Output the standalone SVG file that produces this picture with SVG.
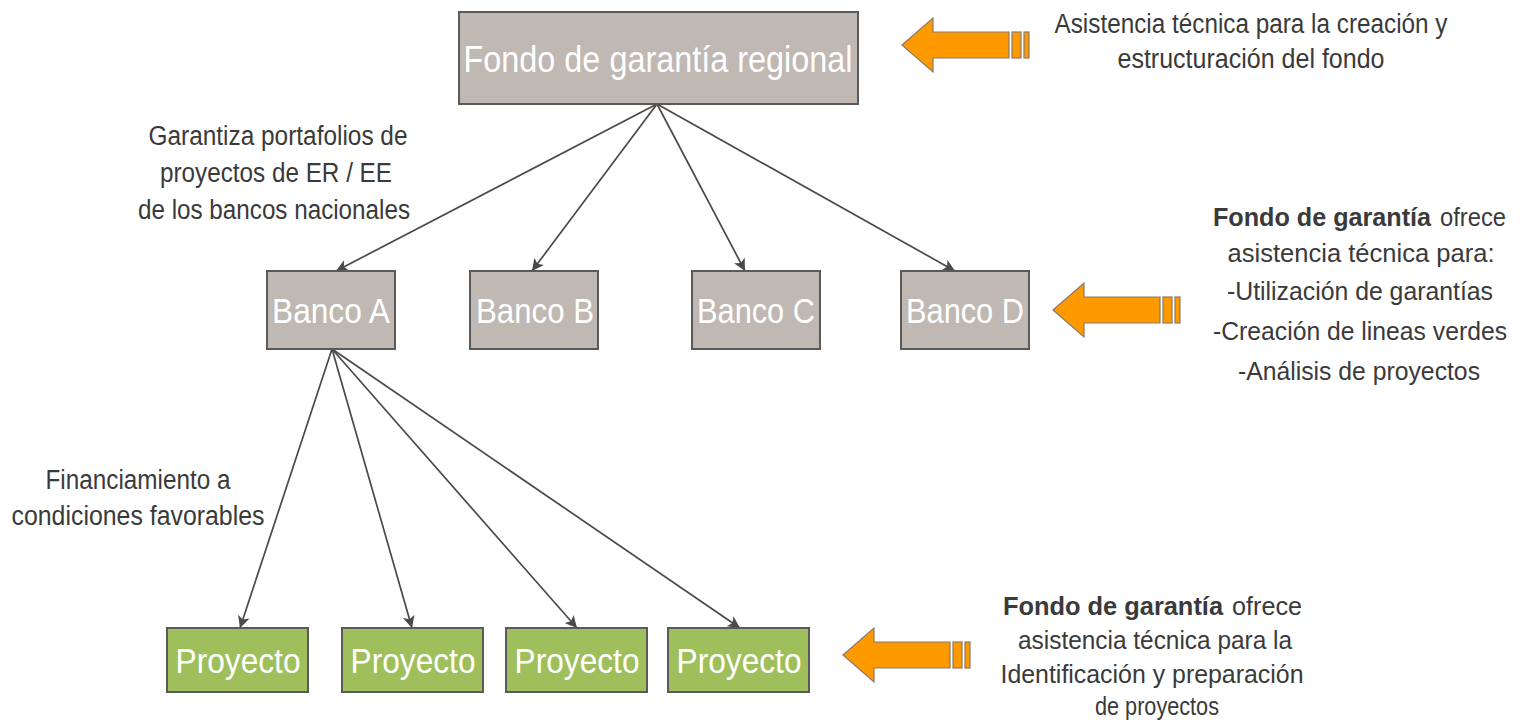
<svg xmlns="http://www.w3.org/2000/svg" width="1520" height="720" viewBox="0 0 1520 720">
<style>
.box{stroke:#5a5a5a;stroke-width:2}
.gray{fill:#BFB8B3}
.green{fill:#9FBF5C}
.bt{font-family:"Liberation Sans",Arial,sans-serif;fill:#ffffff;text-anchor:middle}
.t{font-family:"Liberation Sans",Arial,sans-serif;fill:#3a3a3a;font-size:27px;text-anchor:middle}
.r{font-size:26px}
.s{text-anchor:start}
.b{font-weight:bold}
.conn{stroke:#4a4a4a;stroke-width:1.7;fill:none;marker-end:url(#ah)}
.arr{fill:#FF9900;stroke:#8a7a6a;stroke-width:1.2}
</style>
<defs>
<marker id="ah" markerUnits="userSpaceOnUse" markerWidth="14" markerHeight="14" refX="12" refY="6" orient="auto">
<path d="M0,0 L12,6 L0,12 L3,6 Z" fill="#4a4a4a"/>
</marker>
<g id="bigarrow">
<path class="arr" d="M0,0 L31,-27 L31,-13 L107,-13 L107,13 L31,13 L31,27 Z"/>
<rect class="arr" x="110" y="-13" width="9" height="26"/>
<rect class="arr" x="122" y="-13" width="5" height="26"/>
</g>
</defs>
<rect width="1520" height="720" fill="#ffffff"/>

<g id="connectors">
<path class="conn" d="M657,104 L336,271"/>
<path class="conn" d="M657,104 L532,271"/>
<path class="conn" d="M657,104 L745,271"/>
<path class="conn" d="M657,104 L955,271"/>
<path class="conn" d="M332,349 L240,628"/>
<path class="conn" d="M332,349 L412,628"/>
<path class="conn" d="M332,349 L577,628"/>
<path class="conn" d="M332,349 L740,628"/>
</g>

<g id="fondo">
<rect class="box gray" x="459" y="12" width="399" height="92"/>
<text class="bt" x="658" y="72" font-size="37" textLength="389" lengthAdjust="spacingAndGlyphs">Fondo de garantía regional</text>
</g>

<g id="bancoA">
<rect class="box gray" x="267" y="271" width="128" height="78"/>
<text class="bt" x="331" y="323" font-size="35" textLength="118" lengthAdjust="spacingAndGlyphs">Banco A</text>
</g>
<g id="bancoB">
<rect class="box gray" x="470" y="271" width="128" height="78"/>
<text class="bt" x="535" y="323" font-size="35" textLength="118" lengthAdjust="spacingAndGlyphs">Banco B</text>
</g>
<g id="bancoC">
<rect class="box gray" x="692" y="271" width="128" height="78"/>
<text class="bt" x="756" y="323" font-size="35" textLength="118" lengthAdjust="spacingAndGlyphs">Banco C</text>
</g>
<g id="bancoD">
<rect class="box gray" x="901" y="271" width="128" height="78"/>
<text class="bt" x="965" y="323" font-size="35" textLength="118" lengthAdjust="spacingAndGlyphs">Banco D</text>
</g>

<g id="proyecto1">
<rect class="box green" x="167" y="628" width="141" height="64"/>
<text class="bt" x="238" y="673" font-size="35" textLength="125" lengthAdjust="spacingAndGlyphs">Proyecto</text>
</g>
<g id="proyecto2">
<rect class="box green" x="342" y="628" width="141" height="64"/>
<text class="bt" x="413" y="673" font-size="35" textLength="125" lengthAdjust="spacingAndGlyphs">Proyecto</text>
</g>
<g id="proyecto3">
<rect class="box green" x="506" y="628" width="141" height="64"/>
<text class="bt" x="577" y="673" font-size="35" textLength="125" lengthAdjust="spacingAndGlyphs">Proyecto</text>
</g>
<g id="proyecto4">
<rect class="box green" x="668" y="628" width="141" height="64"/>
<text class="bt" x="739" y="673" font-size="35" textLength="125" lengthAdjust="spacingAndGlyphs">Proyecto</text>
</g>

<g id="arrow1"><use href="#bigarrow" transform="translate(902,45)"/></g>
<g id="arrow2"><use href="#bigarrow" transform="translate(1053,310)"/></g>
<g id="arrow3"><use href="#bigarrow" transform="translate(843,655)"/></g>

<g id="label-garantiza">
<text class="t" x="278" y="145" textLength="259" lengthAdjust="spacingAndGlyphs">Garantiza portafolios de</text>
<text class="t" x="276" y="182" textLength="232" lengthAdjust="spacingAndGlyphs">proyectos de ER / EE</text>
<text class="t" x="274" y="219" textLength="272" lengthAdjust="spacingAndGlyphs">de los bancos nacionales</text>
</g>

<g id="label-financiamiento">
<text class="t" x="138" y="489" textLength="185" lengthAdjust="spacingAndGlyphs">Financiamiento a</text>
<text class="t" x="138" y="525" textLength="253" lengthAdjust="spacingAndGlyphs">condiciones favorables</text>
</g>

<g id="label-asistencia">
<text class="t" x="1251" y="33" textLength="393" lengthAdjust="spacingAndGlyphs">Asistencia técnica para la creación y</text>
<text class="t" x="1251" y="68" textLength="267" lengthAdjust="spacingAndGlyphs">estructuración del fondo</text>
</g>

<g id="label-bancos">
<text class="t r s b" x="1213" y="226" textLength="218" lengthAdjust="spacingAndGlyphs">Fondo de garantía</text>
<text class="t r s" x="1440" y="226" textLength="66" lengthAdjust="spacingAndGlyphs">ofrece</text>
<text class="t r" x="1361" y="262" textLength="267" lengthAdjust="spacingAndGlyphs">asistencia técnica para:</text>
<text class="t r" x="1360" y="300" textLength="266" lengthAdjust="spacingAndGlyphs">-Utilización de garantías</text>
<text class="t r" x="1360" y="340" textLength="294" lengthAdjust="spacingAndGlyphs">-Creación de lineas verdes</text>
<text class="t r" x="1359" y="380" textLength="242" lengthAdjust="spacingAndGlyphs">-Análisis de proyectos</text>
</g>

<g id="label-proyectos">
<text class="t r s b" x="1003" y="615" textLength="220" lengthAdjust="spacingAndGlyphs">Fondo de garantía</text>
<text class="t r s" x="1232" y="615" textLength="70" lengthAdjust="spacingAndGlyphs">ofrece</text>
<text class="t r" x="1155" y="649" textLength="274" lengthAdjust="spacingAndGlyphs">asistencia técnica para la</text>
<text class="t r" x="1152" y="683" textLength="303" lengthAdjust="spacingAndGlyphs">Identificación y preparación</text>
<text class="t r" x="1157" y="715" textLength="124" lengthAdjust="spacingAndGlyphs">de proyectos</text>
</g>
</svg>
